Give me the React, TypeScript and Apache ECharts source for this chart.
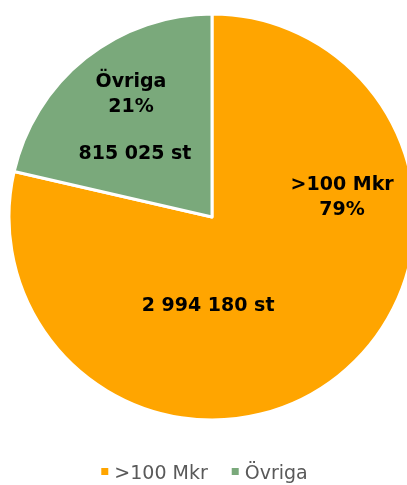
import React, { useEffect, useRef } from "react";
import * as echarts from "echarts";

const categories = [">100 Mkr", "Övriga"];
const values = [2994180, 815025];
const colors = ["#FFA500", "#7AA97B"];

const fmt = (v: number) => String(v).replace(/\B(?=(\d{3})+(?!\d))/g, " ");

export default function App() {
  const ref = useRef<HTMLDivElement>(null);
  useEffect(() => {
    const chart = echarts.init(ref.current!, null, { renderer: "svg" });
    const data = categories.map((c, i) => ({ name: c, value: values[i], itemStyle: { color: colors[i] } }));
    const nameOffsets = [[65, -103], [-16, -43]];
    const valueOffsets = [[-69, 5], [-12, 17]];
    const labelFont = { fontFamily: "DejaVu Sans", fontWeight: "bold", fontSize: 19, color: "#000", lineHeight: 25 };
    chart.setOption({
      animation: false,
      legend: {
        bottom: -1,
        left: "center",
        icon: "rect",
        itemWidth: 9,
        itemHeight: 9,
        itemGap: 22,
        textStyle: { fontFamily: "DejaVu Sans", fontSize: 19, color: "#595959" },
        data: categories,
      },
      series: [
        {
          type: "pie",
          center: [212, 217],
          radius: 203,
          startAngle: 90,
          clockwise: true,
          data,
          itemStyle: { borderColor: "#fff", borderWidth: 3 },
          label: { show: true, position: "inside", formatter: "{b}\n{d}%", ...labelFont },
          labelLine: { show: false },
          labelLayout: (p: any) => ({ dx: nameOffsets[p.dataIndex][0], dy: nameOffsets[p.dataIndex][1] }),
          emphasis: { disabled: true },
          percentPrecision: 0,
        },
        {
          type: "pie",
          center: [212, 217],
          radius: 203,
          startAngle: 90,
          clockwise: true,
          data: categories.map((c, i) => ({ name: c, value: values[i] })),
          itemStyle: { color: "transparent", borderWidth: 0 },
          label: { show: true, position: "inside", formatter: (p: any) => fmt(p.value) + " st", ...labelFont },
          labelLine: { show: false },
          labelLayout: (p: any) => ({ dx: valueOffsets[p.dataIndex][0], dy: valueOffsets[p.dataIndex][1] }),
          emphasis: { disabled: true },
          silent: true,
          legendHoverLink: false,
        },
      ],
    });
    return () => chart.dispose();
  }, []);
  return <div ref={ref} style={{ position: "fixed", left: 0, top: 0, width: 407, height: 485 }} />;
}
